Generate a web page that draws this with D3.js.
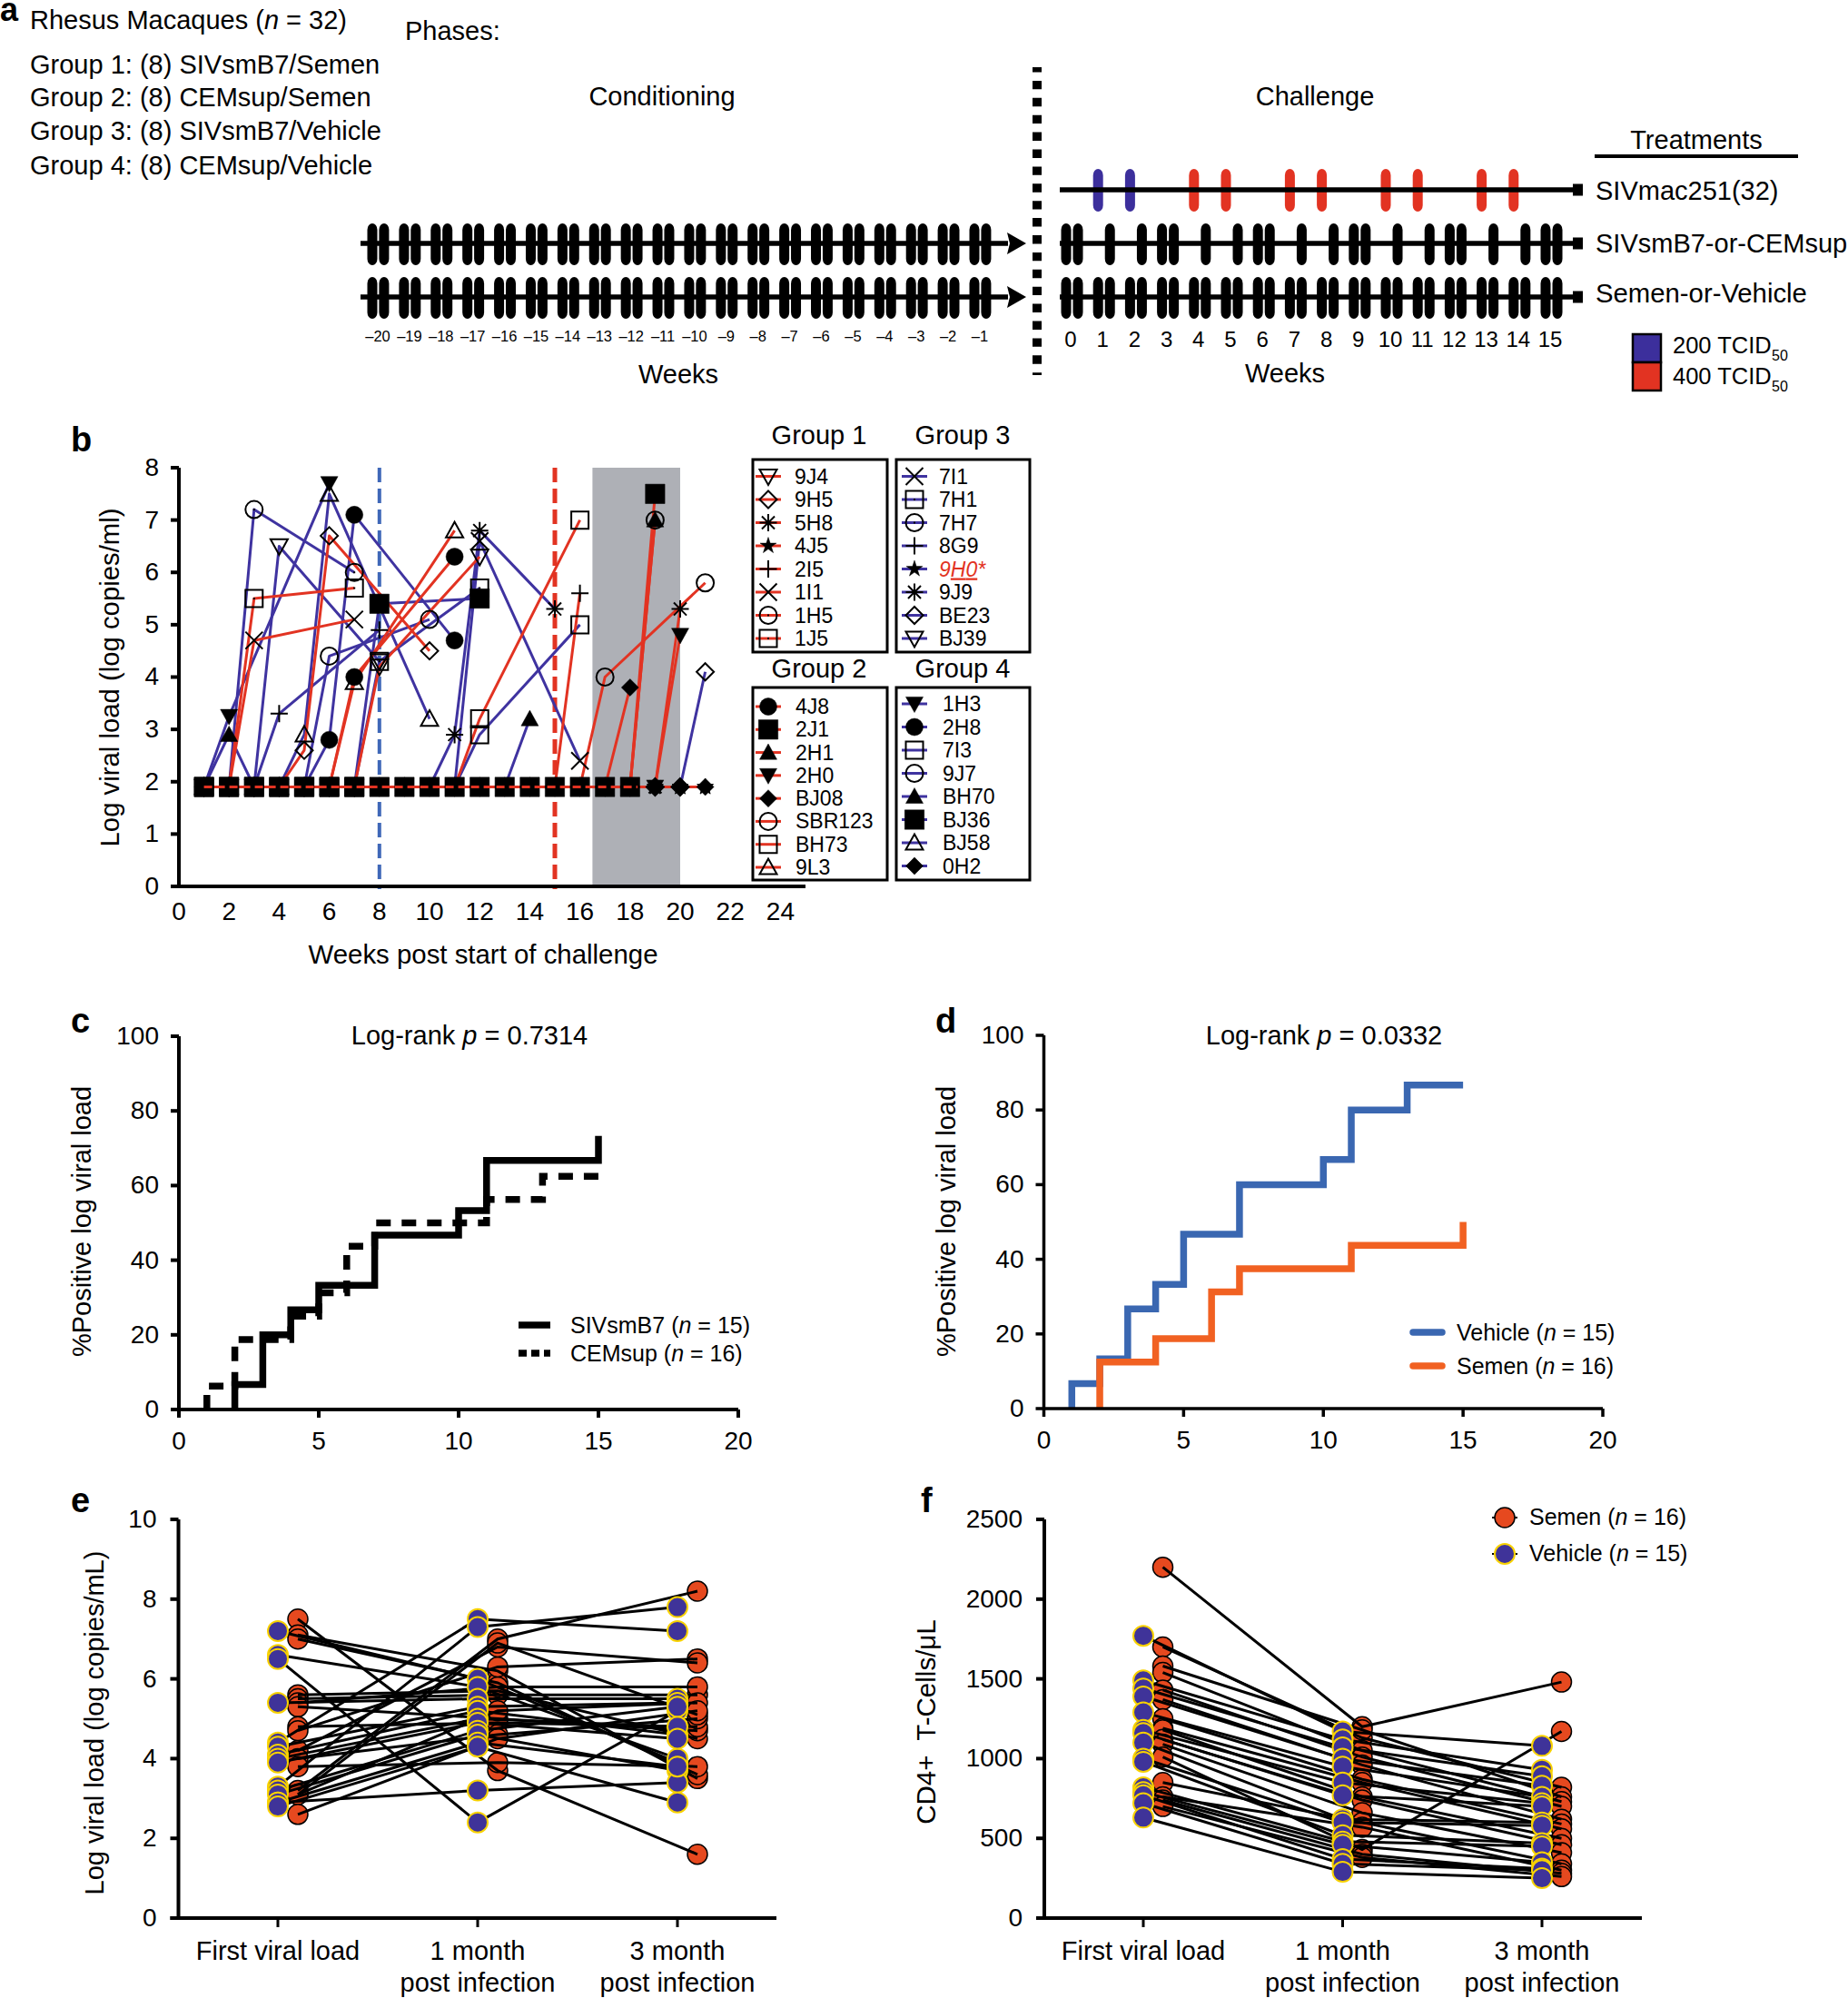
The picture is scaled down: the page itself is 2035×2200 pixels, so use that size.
<!DOCTYPE html>
<html>
<head>
<meta charset="utf-8">
<script src="https://d3js.org/d3.v7.min.js"></script>
<style>
  body { margin: 0; background: #fff; }
  text { font-family: "Liberation Sans", Arial, sans-serif; fill: #000; }
</style>
</head>
<body>
<div id="my_dataviz"></div>
<script>

// ---------- panel a: dosing schedule ----------
var conditioningWeeks = [-20,-19,-18,-17,-16,-15,-14,-13,-12,-11,-10,-9,-8,-7,-6,-5,-4,-3,-2,-1]
var conditioningLabels = ["–20","–19","–18","–17","–16","–15","–14","–13","–12","–11","–10","–9","–8","–7","–6","–5","–4","–3","–2","–1"]
var challengeWeeks = [0,1,2,3,4,5,6,7,8,9,10,11,12,13,14,15]
var sivmac200 = [1,2]
var sivmac400 = [4,5,7,8,10,11,13,14]
var gelSivDoses = [0,0.37,1.37,2.37,3,3.37,4.37,5.37,6,6.37,7.37,8.37,9,9.37,10.37,11.37,12,12.37,13.37,14.37,15,15.37]
var gelSemenDoses = [0,0.37,1,1.37,2,2.37,3,3.37,4,4.37,5,5.37,6,6.37,7,7.37,8,8.37,9,9.37,10,10.37,11,11.37,12,12.37,13,13.37,14,14.37,15,15.37]
var groupLines = ["Group 1: (8) SIVsmB7/Semen","Group 2: (8) CEMsup/Semen","Group 3: (8) SIVsmB7/Vehicle","Group 4: (8) CEMsup/Vehicle"]

// ---------- panel b: viral load per animal ----------
var axisWeeksB = [0,2,4,6,8,10,12,14,16,18,20,22,24]
var axisLoadB = [0,1,2,3,4,5,6,7,8]
var detectionLimit = 1.9

var group1 = ["9J4","9H5","5H8","4J5","2I5","1I1","1H5","1J5"]
var group1Until = [7,4,19,21,15,2,18,2]
var group1Detected = [[[8,4.2],[12,6.3]], [[5,2.6],[6,6.7],[10,4.5]], [[20,5.3]], [], [[16,5.6]], [[3,4.7],[7,5.1]], [[19,7.0]], [[3,5.5],[7,5.7]]]

var group2 = ["4J8","2J1","2H1","2H0","BJ08","SBR123","BH73","9L3"]
var group2Until = [6,18,18,19,17,16,11,6]
var group2Detected = [[[7,4.0],[11,6.3]], [[19,7.5]], [[19,7.0]], [[20,4.8]], [[18,3.8]], [[17,4.0],[21,5.8]], [[12,3.2],[16,7.0]], [[7,3.9],[11,6.8]]]

var group3 = ["7I1","7H1","7H7","8G9","9H0*","9J9","BE23","BJ39"]
var group3Until = [11,7,2,3,21,10,20,3]
var group3Detected = [[[12,6.6],[16,2.4]], [[8,4.3],[12,5.7]], [[3,7.2],[7,6.0]], [[4,3.3],[8,4.9]], [], [[11,2.9],[12,6.8],[15,5.3]], [[21,4.1]], [[4,6.5],[8,4.3]]]

var group4 = ["1H3","2H8","7I3","9J7","BH70","BJ36","BJ58","0H2"]
var group4Until = [1,5,11,5,13,7,4,21]
var group4Detected = [[[2,3.25],[6,7.7]], [[6,2.8],[7,7.1],[11,4.7]], [[12,2.9],[16,5.0]], [[6,4.4],[10,5.1]], [[2,2.9],[14,3.2]], [[8,5.4],[12,5.5]], [[5,2.9],[6,7.5],[10,3.2]], []]

// marker style, same order as the animals
var group1Markers = ["downOpen","diamondOpen","asterisk","star","plus","times","circleDot","squareDot"]
var group2Markers = ["circle","square","up","down","diamond","circleOpen","squareOpen","upOpen"]
var group3Markers = ["times","squareDot","circleDot","plus","star","asterisk","diamondOpen","downOpen"]
var group4Markers = ["down","circle","squareOpen","circleOpen","up","square","upOpen","diamond"]

// ---------- panels c, d: time to first positive ----------
var axisWeeksKM = [0,5,10,15,20]
var axisPct = [0,20,40,60,80,100]
var smb7Weeks = [2,2,3,4,5,7,10,11,15]
var smb7Pct = [0,6.7,20,26.7,33.3,46.7,53.3,66.7,73.3]
var cemWeeks = [1,1,2,4,5,6,7,11,13,15]
var cemPct = [0,6.25,18.75,25,31.25,43.75,50,56.25,62.5,62.5]
var vehicleWeeks = [1,1,2,3,4,5,7,10,11,13,15]
var vehiclePct = [0,6.7,13.3,26.7,33.3,46.7,60,66.7,80,86.7,86.7]
var semenWeeks = [2,2,4,6,7,11,15]
var semenPct = [0,12.5,18.75,31.25,37.5,43.75,50]

// ---------- panels e, f: paired values ----------
var timepoints = ["First viral load","1 month","3 month"]
var axisLogE = [0,2,4,6,8,10]
var axisCD4 = [0,500,1000,1500,2000,2500]

var semenFirstE  = [7.5,7.1,7.0,5.6,5.5,5.4,5.3,4.8,4.7,4.2,4.0,3.8,3.2,3.1,3.1,2.6]
var semenMonth1E = [3.7,6.2,5.9,5.7,5.6,5.8,5.0,4.9,6.3,6.8,4.6,3.9,7.0,5.2,6.9,4.5]
var semenMonth3E = [1.6,3.5,3.6,4.5,5.6,5.8,4.7,4.8,6.5,6.4,5.0,3.8,8.2,5.4,5.1,5.2]
var vehicleFirstE  = [7.2,6.6,6.5,5.4,4.4,4.3,4.1,4.0,3.9,3.3,3.2,3.1,2.9,2.9,2.8]
var vehicleMonth1E = [6.0,5.8,2.4,5.5,7.5,5.3,5.2,5.0,4.9,7.3,4.7,4.6,3.2,4.4,4.3]
var vehicleMonth3E = [3.9,4.0,5.2,5.5,7.2,5.4,4.6,4.8,4.5,7.8,5.3,3.7,3.4,3.8,2.9]

var semenFirstF  = [2200,1700,1580,1540,1430,1370,1250,1190,1180,1120,1090,1010,850,760,740,700]
var semenMonth1F = [1200,1130,1180,1050,1010,960,870,850,760,740,660,430,600,570,400,380]
var semenMonth3F = [1480,820,760,730,700,620,590,560,500,460,410,1170,340,300,280,260]
var vehicleFirstF  = [1770,1490,1440,1390,1290,1180,1160,1100,1000,980,820,790,770,720,630]
var vehicleMonth1F = [1170,1120,1070,1000,950,850,770,620,600,520,480,460,370,340,290]
var vehicleMonth3F = [1080,930,890,830,760,720,700,600,580,470,450,350,310,300,250]

var RED = "#e23322", BLUE = "#3f33a0", DOT_RED = "#e6491f", DOT_BLUE = "#3f3399", YELLOW = "#f8d200"

var svg = d3.select("#my_dataviz").append("svg")
  .attr("width", 2035)
  .attr("height", 2200)

// text helper: parts between | are set in italic
function label(parent, x, y, str, size, anchor) {
  var t = parent.append("text")
    .attr("x", x)
    .attr("y", y)
    .style("font-size", size + "px")
    .attr("text-anchor", anchor || "start")
  str.split("|").forEach(function(s, i) {
    t.append("tspan").text(s).style("font-style", i % 2 ? "italic" : "normal")
  })
  return t
}
function panelLetter(s, x, y) {
  label(svg, x, y, s, 38).style("font-weight", "bold")
}
function rotatedLabel(str, x, y, size) {
  label(svg, 0, 0, str, size, "middle").attr("transform", "translate(" + x + "," + y + ") rotate(-90)")
}
function styleAxis(g, w, size) {
  g.select(".domain").attr("stroke-width", w).attr("stroke", "#000")
  g.selectAll(".tick line").attr("stroke-width", w).attr("stroke", "#000")
  g.selectAll(".tick text").style("font-size", size + "px").attr("fill", "#000")
}

// ---------- panel a ----------
label(svg, 0, 23, "a", 36).style("font-weight", "bold")
label(svg, 33, 32, "Rhesus Macaques (|n| = 32)", 29)
label(svg, 446, 44, "Phases:", 29)
label(svg, 729, 116, "Conditioning", 29, "middle")
label(svg, 1448, 116, "Challenge", 29, "middle")
var groupLineY = d3.scaleOrdinal().domain(groupLines).range([81,117,154,192])
groupLines.forEach(function(d) {
  label(svg, 33, groupLineY(d), d, 29)
})

var condX = d3.scaleLinear().domain([-20,-1]).range([410,1073])
var chalX = d3.scaleLinear().domain([0,15]).range([1174,1702])

function doseBars(scale, doses, top, bottom, color) {
  svg.append("g").selectAll("rect").data(doses).enter().append("rect")
    .attr("x", function(d) { return scale(d) - 5.5 })
    .attr("y", top)
    .attr("width", 11)
    .attr("height", bottom - top)
    .attr("rx", 5.5)
    .attr("ry", 7)
    .attr("fill", color)
}
function scheduleLine(x1, x2, y, arrow) {
  svg.append("line").attr("x1", x1).attr("x2", x2).attr("y1", y).attr("y2", y)
    .attr("stroke", "#000").attr("stroke-width", 5.5)
  if (arrow) {
    svg.append("path")
      .attr("d", "M" + (x2 + 20) + "," + y + "L" + (x2 - 1) + "," + (y - 12) + "L" + (x2 + 2) + "," + y + "L" + (x2 - 1) + "," + (y + 12) + "Z")
  } else {
    svg.append("rect").attr("x", x2 - 6).attr("y", y - 6.5).attr("width", 11).attr("height", 13)
  }
}
// conditioning: two doses a week
var condDoses = conditioningWeeks.concat(conditioningWeeks.map(function(d) { return d + 0.37 }))
doseBars(condX, condDoses, 246, 292, "#000")
doseBars(condX, condDoses, 305, 351, "#000")
scheduleLine(397, 1110, 268, true)
scheduleLine(397, 1110, 327, true)

doseBars(chalX, sivmac200, 186, 233, "#3c2f9c")
doseBars(chalX, sivmac400, 186, 233, RED)
doseBars(chalX, gelSivDoses, 246, 292, "#000")
doseBars(chalX, gelSemenDoses, 305, 351, "#000")
scheduleLine(1167, 1738, 209)
scheduleLine(1167, 1738, 268)
scheduleLine(1167, 1738, 327)

conditioningLabels.forEach(function(d, i) {
  label(svg, condX(conditioningWeeks[i]) + 6, 376, d, 16.5, "middle")
})
challengeWeeks.forEach(function(d) {
  label(svg, chalX(d) + 5, 382, String(d), 24, "middle")
})
label(svg, 747, 422, "Weeks", 29, "middle")
label(svg, 1415, 421, "Weeks", 29, "middle")

// dashed divider
svg.append("line").attr("x1", 1142).attr("x2", 1142).attr("y1", 74).attr("y2", 413)
  .attr("stroke", "#000").attr("stroke-width", 10).attr("stroke-dasharray", "9.4 9.5").attr("stroke-dashoffset", 4)

label(svg, 1868, 164, "Treatments", 29, "middle")
svg.append("rect").attr("x", 1756).attr("y", 170).attr("width", 224).attr("height", 4)
label(svg, 1757, 220, "SIVmac251(32)", 29)
label(svg, 1757, 278, "SIVsmB7-or-CEMsup", 29)
label(svg, 1757, 333, "Semen-or-Vehicle", 29.3)

svg.append("rect").attr("x", 1798).attr("y", 368).attr("width", 31).attr("height", 31).attr("fill", "#3c2f9c").attr("stroke", "#000").attr("stroke-width", 2.5)
svg.append("rect").attr("x", 1798).attr("y", 399).attr("width", 31).attr("height", 31).attr("fill", RED).attr("stroke", "#000").attr("stroke-width", 2.5)
var tcid = [["200 TCID", 389], ["400 TCID", 423]]
tcid.forEach(function(d) {
  label(svg, 1842, d[1], d[0], 25.5)
  label(svg, 1951, d[1] + 8, "50", 16)
})

// ---------- panel b ----------
panelLetter("b", 78, 497)
var xB = d3.scaleLinear().domain([0,25]).range([197,887])
var yB = d3.scaleLinear().domain([0,8]).range([976,515])

// exposure window and the two dose change lines
svg.append("rect")
  .attr("x", xB(16.5)).attr("width", xB(20) - xB(16.5))
  .attr("y", yB(8)).attr("height", yB(0) - yB(8))
  .attr("fill", "#aeb0b6")
function doseLine(week, color, w) {
  svg.append("line").attr("x1", xB(week)).attr("x2", xB(week)).attr("y1", yB(8)).attr("y2", yB(0) + 3)
    .attr("stroke", color).attr("stroke-width", w).attr("stroke-dasharray", "16 7")
}
doseLine(8, "#3f68b8", 4)
doseLine(15, RED, 5)

var gx = svg.append("g").attr("transform", "translate(0," + yB(0) + ")")
  .call(d3.axisBottom(xB).tickValues(axisWeeksB).tickSize(0).tickPadding(17).tickSizeOuter(0).offset(0))
styleAxis(gx, 4, 28)
var gy = svg.append("g").attr("transform", "translate(" + xB(0) + ",0)")
  .call(d3.axisLeft(yB).tickValues(axisLoadB).tickSize(9).tickPadding(13).tickSizeOuter(0).offset(0))
styleAxis(gy, 4, 28)
label(svg, 532, 1061, "Weeks post start of challenge", 29.4, "middle")
rotatedLabel("Log viral load (log copies/ml)", 131, 746, 29.3)

// marker path, s is half the marker width
function markerPath(shape, s) {
  var base = shape.replace(/Open|Dot/, "")
  if (base === "circle") return d3.symbol().type(d3.symbolCircle).size(Math.PI * s * s)()
  if (base === "square") return d3.symbol().type(d3.symbolSquare).size(4 * s * s)()
  if (base === "star") return d3.symbol().type(d3.symbolStar).size(s * s * 1.1)()
  if (base === "diamond") return "M0," + (-s) + "L" + s + ",0L0," + s + "L" + (-s) + ",0Z"
  if (base === "up") return "M0," + (-s) + "L" + s + "," + s * 0.8 + "L" + (-s) + "," + s * 0.8 + "Z"
  if (base === "down") return "M0," + s + "L" + s + "," + (-s * 0.8) + "L" + (-s) + "," + (-s * 0.8) + "Z"
  if (base === "plus") return "M0," + (-s) + "V" + s + "M" + (-s) + ",0H" + s
  if (base === "times") return "M" + (-s) + "," + (-s) + "L" + s + "," + s + "M" + s + "," + (-s) + "L" + (-s) + "," + s
  // asterisk
  var k = s * 0.74
  return "M0," + (-s) + "V" + s + "M" + (-s) + ",0H" + s + "M" + (-k) + "," + (-k) + "L" + k + "," + k + "M" + k + "," + (-k) + "L" + (-k) + "," + k
}
function drawMarker(parent, shape, x, y) {
  var open = /Open|Dot|plus|times|asterisk/.test(shape)
  parent.append("path")
    .attr("transform", "translate(" + x + "," + y + ")")
    .attr("d", markerPath(shape, shape === "square" ? 10.7 : 9.5))
    .attr("fill", open ? "none" : "#000")
    .attr("stroke", "#000")
    .attr("stroke-width", !open ? 0.5 : 2)
  if (/Dot/.test(shape)) {
    parent.append("rect").attr("x", x - 1).attr("y", y - 1).attr("width", 2).attr("height", 2)
  }
}

// build the animals
function animals(names, until, detected, markers, color) {
  return names.map(function(name, i) {
    var seen = detected[i].map(function(p) { return p[0] })
    var below = d3.range(1, until[i] + 1).filter(function(w) { return seen.indexOf(w) < 0 })
    var points = below.map(function(w) { return [w, detectionLimit] }).concat(detected[i])
    points.sort(function(a, b) { return a[0] - b[0] })
    return { name: name, points: points, marker: markers[i], color: color }
  })
}
var all = animals(group3, group3Until, group3Detected, group3Markers, BLUE)
  .concat(animals(group4, group4Until, group4Detected, group4Markers, BLUE))
  .concat(animals(group1, group1Until, group1Detected, group1Markers, RED))
  .concat(animals(group2, group2Until, group2Detected, group2Markers, RED))

var lineB = d3.line().x(function(d) { return xB(d[0]) }).y(function(d) { return yB(d[1]) })
svg.append("g").selectAll("path").data(all).enter().append("path")
  .attr("d", function(d) { return lineB(d.points) })
  .attr("fill", "none")
  .attr("stroke", function(d) { return d.color })
  .attr("stroke-width", 3)
  .attr("stroke-linejoin", "round")
// stars at the bottom of the stack, squares on top along the limit
var stackOrder = function(a) { return a.marker === "star" ? 0 : /square/.test(a.marker) ? 2 : 1 }
var markersB = svg.append("g")
all.slice().sort(function(a, b) { return stackOrder(a) - stackOrder(b) }).forEach(function(a) {
  a.points.forEach(function(p) { drawMarker(markersB, a.marker, xB(p[0]), yB(p[1])) })
})
// red line shows through the stacked squares along the limit
svg.append("line")
  .attr("x1", xB(1)).attr("x2", xB(18.3)).attr("y1", yB(detectionLimit)).attr("y2", yB(detectionLimit))
  .attr("stroke", RED).attr("stroke-width", 3).attr("stroke-dasharray", "9 5")

// legend boxes of panel b
function legendBox(title, titleX, titleY, box, names, markers, color, markerX, textX, rows) {
  label(svg, titleX, titleY, title, 29, "middle")
  svg.append("rect").attr("x", box[0]).attr("y", box[1]).attr("width", box[2]).attr("height", box[3])
    .attr("fill", "none").attr("stroke", "#000").attr("stroke-width", 3)
  var rowY = d3.scaleLinear().domain([0,7]).range(rows)
  names.forEach(function(n, i) {
    svg.append("line").attr("x1", markerX - 14).attr("x2", markerX + 14).attr("y1", rowY(i)).attr("y2", rowY(i))
      .attr("stroke", color).attr("stroke-width", 3)
    drawMarker(svg, markers[i], markerX, rowY(i))
    var t = label(svg, textX, rowY(i) + 8, n, 23)
    if (n === "9H0*") {
      t.selectAll("tspan").remove()
      t.style("font-style", "italic").style("fill", RED)
      t.append("tspan").text("9").style("fill", RED)
      t.append("tspan").text("H").style("fill", RED).style("text-decoration", "underline")
      t.append("tspan").text("0").style("fill", RED).style("text-decoration", "underline")
      t.append("tspan").text("*").style("fill", RED)
    }
  })
}
legendBox("Group 1", 902, 489, [829,506,148,212], group1, group1Markers, RED, 846, 875, [524.5,703])
legendBox("Group 3", 1060, 489, [987,506,147,212], group3, group3Markers, BLUE, 1007, 1034, [524.5,703])
legendBox("Group 2", 902, 746, [829,757,148,212], group2, group2Markers, RED, 846, 876, [778,955])
legendBox("Group 4", 1060, 746, [987,757,147,212], group4, group4Markers, BLUE, 1007, 1038, [775,953.5])

// ---------- panels c and d ----------
function kmPanel(letter, letterX, xRange, yRange, title, titleX, yTitleX, series, legend, axisW) {
  panelLetter(letter, letterX, 1137)
  var x = d3.scaleLinear().domain([0,20]).range(xRange)
  var y = d3.scaleLinear().domain([0,100]).range(yRange)
  var step = d3.line().curve(d3.curveStepAfter).x(function(d) { return x(d[0]) }).y(function(d) { return y(d[1]) })
  series.forEach(function(s) {
    svg.append("path")
      .datum(d3.zip(s.weeks, s.pct))
      .attr("d", step)
      .attr("fill", "none")
      .attr("stroke", s.color)
      .attr("stroke-width", 7.5)
      .attr("stroke-dasharray", s.dash || null)
  })
  var ax = svg.append("g").attr("transform", "translate(0," + yRange[0] + ")")
    .call(d3.axisBottom(x).tickValues(axisWeeksKM).tickSize(9).tickPadding(15).tickSizeOuter(0).offset(0))
  styleAxis(ax, axisW, 28)
  var ay = svg.append("g").attr("transform", "translate(" + xRange[0] + ",0)")
    .call(d3.axisLeft(y).tickValues(axisPct).tickSize(9).tickPadding(13).tickSizeOuter(0).offset(0))
  styleAxis(ay, axisW, 28)
  label(svg, titleX, 1150, title, 29, "middle")
  rotatedLabel("%Positive log viral load", yTitleX, 1345, 29)
  legend.forEach(function(l) {
    svg.append("line").attr("x1", l.x1).attr("x2", l.x2).attr("y1", l.y).attr("y2", l.y)
      .attr("stroke", l.color).attr("stroke-width", 7.5)
      .attr("stroke-dasharray", l.dash || null)
      .attr("stroke-linecap", l.cap || "butt")
    label(svg, l.textX, l.y + 9, l.text, 25)
  })
}
kmPanel("c", 78, [197,813], [1552,1141], "Log-rank |p| = 0.7314", 517, 100,
  [{ weeks: smb7Weeks, pct: smb7Pct, color: "#000" },
   { weeks: cemWeeks, pct: cemPct, color: "#000", dash: "16 12" }],
  [{ x1: 571, x2: 606, y: 1459, color: "#000", textX: 628, text: "SIVsmB7 (|n| = 15)" },
   { x1: 571, x2: 606, y: 1490, color: "#000", dash: "9 5", textX: 628, text: "CEMsup (|n| = 16)" }], 4)
kmPanel("d", 1030, [1149.5,1765], [1551,1140], "Log-rank |p| = 0.0332", 1458, 1052,
  [{ weeks: vehicleWeeks, pct: vehiclePct, color: "#3a67b1" },
   { weeks: semenWeeks, pct: semenPct, color: "#f16122" }],
  [{ x1: 1556, x2: 1588, y: 1467, color: "#3a67b1", cap: "round", textX: 1604, text: "Vehicle (|n| = 15)" },
   { x1: 1556, x2: 1588, y: 1504, color: "#f16122", cap: "round", textX: 1604, text: "Semen (|n| = 16)" }], 3.5)

// ---------- panels e and f ----------
function pairedPanel(axisX, xEnd, catX, dotGap, domainMax, yTicks, semen, vehicle) {
  var y = d3.scaleLinear().domain([0, domainMax]).range([2112,1673])
  var x = d3.scaleOrdinal().domain(timepoints).range(catX)
  var line = d3.line().x(function(d) { return d[0] }).y(function(d) { return y(d[1]) })

  function drawDots(values, offset, fill, stroke, w) {
    values.forEach(function(col, i) {
      svg.append("g").selectAll("circle").data(col).enter().append("circle")
        .attr("cx", catX[i] + offset)
        .attr("cy", function(d) { return y(d) })
        .attr("r", 11)
        .attr("fill", fill)
        .attr("stroke", stroke)
        .attr("stroke-width", w)
    })
  }
  function drawLines(values, offset) {
    d3.zip.apply(null, values).forEach(function(v) {
      svg.append("path")
        .attr("d", line(v.map(function(d, i) { return [catX[i] + offset, d] })))
        .attr("fill", "none").attr("stroke", "#000").attr("stroke-width", 3)
    })
  }
  drawDots(semen, dotGap, DOT_RED, "#000", 1.5)
  drawLines(semen, dotGap)
  drawLines(vehicle, 0)
  drawDots(vehicle, 0, DOT_BLUE, YELLOW, 2)

  svg.append("line").attr("x1", axisX - 9).attr("x2", xEnd).attr("y1", y(0)).attr("y2", y(0))
    .attr("stroke", "#000").attr("stroke-width", 4)
  var ay = svg.append("g").attr("transform", "translate(" + axisX + ",0)")
    .call(d3.axisLeft(y).tickValues(yTicks).tickFormat(d3.format("d")).tickSize(9).tickPadding(15).tickSizeOuter(0).offset(0))
  styleAxis(ay, 4, 28)
  var tickG = svg.append("g").attr("transform", "translate(0," + y(0) + ")")
    .call(d3.axisBottom(x).tickSize(10).tickFormat("").tickSizeOuter(0).offset(0))
  styleAxis(tickG, 3, 28)
  tickG.select(".domain").remove()

  timepoints.forEach(function(t, i) {
    label(svg, catX[i], 2158, t, 29, "middle")
    if (i > 0) label(svg, catX[i], 2193, "post infection", 29, "middle")
  })
}
panelLetter("e", 78, 1665)
pairedPanel(196.5, 855, [306,526,746], 22, 10, axisLogE,
  [semenFirstE, semenMonth1E, semenMonth3E],
  [vehicleFirstE, vehicleMonth1E, vehicleMonth3E])
rotatedLabel("Log viral load (log copies/mL)", 114, 1897, 29)

panelLetter("f", 1014, 1665)
pairedPanel(1150, 1808, [1259,1478.5,1698], 21.5, 2500, axisCD4,
  [semenFirstF, semenMonth1F, semenMonth3F],
  [vehicleFirstF, vehicleMonth1F, vehicleMonth3F])
rotatedLabel("CD4+\u00a0 T-Cells/μL", 1030, 1896, 29.5)

// legend of panel f
var legendF = [["Semen (|n| = 16)", 1671, DOT_RED, "#000", 1.5], ["Vehicle (|n| = 15)", 1711, DOT_BLUE, YELLOW, 2]]
legendF.forEach(function(l) {
  svg.append("line").attr("x1", 1643).attr("x2", 1671).attr("y1", l[1]).attr("y2", l[1]).attr("stroke", "#000").attr("stroke-width", 2)
  svg.append("circle").attr("cx", 1657).attr("cy", l[1]).attr("r", 11).attr("fill", l[2]).attr("stroke", l[3]).attr("stroke-width", l[4])
  label(svg, 1684, l[1] + 8, l[0], 25)
})

</script>
</body>
</html>
